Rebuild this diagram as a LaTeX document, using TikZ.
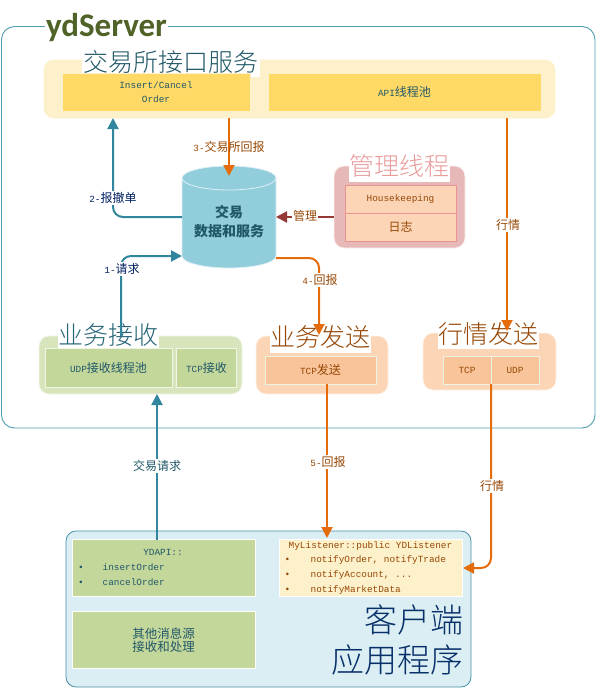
\documentclass[tikz,border=0pt]{standalone}
\usepackage{fontspec}
\setmainfont{Liberation Mono}
\newfontfamily\zhfont{Noto Sans CJK SC}
\newfontfamily\zhlight{Noto Sans CJK SC Light}
\newfontfamily\titlefont{Carlito}
\usepackage{tikz}
\usetikzlibrary{arrows.meta,positioning}
\definecolor{frameline}{HTML}{4F9DB0}
\definecolor{clientline}{HTML}{4A90A8}
\definecolor{clientfill}{HTML}{DAEEF3}
\definecolor{teal}{HTML}{31859C}
\definecolor{orange}{HTML}{E46C0A}
\definecolor{maroon}{HTML}{953735}
\definecolor{brown}{HTML}{974806}
\definecolor{navy}{HTML}{002060}
\definecolor{deep}{HTML}{215868}
\definecolor{olive}{HTML}{4F6228}
\definecolor{creampale}{HTML}{FDF1CB}
\definecolor{gold}{HTML}{FFD966}
\definecolor{rosefill}{HTML}{E6B8B7}
\definecolor{peach}{HTML}{FBD5B5}
\definecolor{peachdeep}{HTML}{F9C499}
\definecolor{sage}{HTML}{D8E4BC}
\definecolor{sagedeep}{HTML}{C4D79B}
\definecolor{cylfill}{HTML}{92CDDC}
\newcommand{\zh}[1]{{\zhfont\fontsize{12}{14}\selectfont #1}}

\begin{document}
\begin{tikzpicture}[
  x=1pt, y=-1pt,
  every node/.style={inner sep=0pt, outer sep=0pt, font=\fontsize{9.4}{14}\selectfont},
  group/.style={rounded corners=10pt, line width=0.8pt},
  grouptitle/.style={fill=white, text=#1, font=\zhlight\fontsize{25}{25}\selectfont},
  cell/.style={draw=#1, line width=0.8pt, align=center},
  line/.style={->, line width=2pt, >={Triangle[length=11pt,width=11pt]}, rounded corners=10pt},
  tag/.style={fill=white, text=#1, inner xsep=1pt, inner ysep=1pt},
]
\useasboundingbox (0,0) rectangle (597,689);

\draw[frameline, line width=0.9pt, rounded corners=13pt] (1.5,26.5) rectangle (595,428);
\node[fill=white, text=olive, minimum width=123pt, minimum height=22pt] (server) at (106.5,28)
  {\titlefont\bfseries\fontsize{33}{33}\selectfont ydServer};

\node[group, fill=creampale, draw=creampale, minimum width=511pt, minimum height=58pt] (exch) at (299.5,89) {};
\node[grouptitle=deep, minimum width=178pt, minimum height=30pt] (exchtitle) at (171,62) {交易所接口服务};
\node[cell=creampale, fill=gold, text=deep, minimum width=188pt, minimum height=38pt] (insert) at (156,92) {Insert/Cancel\\[-0.5pt]Order};
\node[cell=creampale, fill=gold, text=deep, minimum width=273pt, minimum height=38pt] (apipool) at (404.5,92) {API\zh{线程池}};

\node[minimum width=94pt, minimum height=102pt] (db) at (229,217) {};
\draw[draw=white!70!cylfill, fill=cylfill, line width=0.8pt] ([yshift=-12pt]db.north west) arc (180:0:47pt and 12pt)
  -- ([yshift=12pt]db.south east) arc (0:-180:47pt and 12pt) -- cycle;
\draw[white!70!cylfill, line width=0.8pt] ([yshift=-12pt]db.north west) arc (180:360:47pt and 12pt);
\node[text=deep, font=\zhfont\bfseries\fontsize{14}{19}\selectfont, align=center] (dbtext) at (229,222) {交易\\数据和服务};

\node[group, fill=rosefill, draw=white!80!rosefill, minimum width=131pt, minimum height=82pt] (mgr) at (399.5,207) {};
\node[grouptitle=rosefill!85!red, minimum width=101pt, minimum height=32pt] (mgrtitle) at (399,166) {管理线程};
\node[cell=rosefill!80!red, fill=peach, text=brown, minimum width=111pt, minimum height=28pt] (hk) at (400.5,199) {Housekeeping};
\node[cell=rosefill!80!red, fill=peach, text=brown, minimum width=111pt, minimum height=28pt] (logbox) at (400.5,227) {\zh{日志}};

\node[group, fill=sage, draw=white!70!sage, minimum width=203pt, minimum height=58pt] (recv) at (140.5,365) {};
\node[grouptitle=deep!70!teal, minimum width=101pt, minimum height=30pt] (recvtitle) at (108.5,335) {业务接收};
\node[cell=white!60!sage, fill=sagedeep, text=deep, minimum width=127pt, minimum height=39pt] (udprecv) at (108.5,368) {UDP\zh{接收线程池}};
\node[cell=white!60!sage, fill=sagedeep, text=deep, minimum width=60pt, minimum height=39pt] (tcprecv) at (206.5,368) {TCP\zh{接收}};

\node[group, fill=peach, draw=white!70!peach, minimum width=132pt, minimum height=58pt] (sendgrp) at (322,365) {};
\node[grouptitle=brown, minimum width=101pt, minimum height=31pt] (sendtitle) at (320.5,337.5) {业务发送};
\node[cell=sagedeep!30!white, fill=peachdeep, text=brown, minimum width=111pt, minimum height=28pt] (tcpsend) at (320.5,370) {TCP\zh{发送}};

\node[group, fill=peach, draw=white!70!peach, minimum width=133pt, minimum height=57pt] (mktgrp) at (489.5,361.5) {};
\node[grouptitle=brown, minimum width=101pt, minimum height=30pt] (mkttitle) at (488.5,334) {行情发送};
\node[cell=sagedeep!30!white, fill=peachdeep, text=brown, minimum width=48pt, minimum height=28pt] (mkttcp) at (467,370) {TCP};
\node[cell=sagedeep!30!white, fill=peachdeep, text=brown, minimum width=48pt, minimum height=28pt] (mktudp) at (515,370) {UDP};

\node[group, fill=clientfill, draw=clientline, minimum width=405pt, minimum height=156pt] (client) at (268.5,609) {};
\node[cell=white, fill=sagedeep, minimum width=183pt, minimum height=57pt] (ydapi) at (163.5,568) {};
\node[text=deep] (ydapitext) at (163,552) {YDAPI::};
\node[text=deep, anchor=west] (inserttext) at (78,567) {•\hspace{19pt}insertOrder};
\node[text=deep, anchor=west] (canceltext) at (78,582) {•\hspace{19pt}cancelOrder};
\node[cell=white, fill=sagedeep, text=deep, font=\zhfont\fontsize{12.5}{13}\selectfont, minimum width=183pt, minimum height=57pt] (othersrc) at (163.5,640) {其他消息源\\接收和处理};
\node[cell=white, fill=creampale, minimum width=183pt, minimum height=57pt] (listener) at (370.5,567.5) {};
\node[text=brown] (listenertext) at (370.5,546) {MyListener::public YDListener};
\node[text=brown, anchor=west] (notifya) at (284.5,560) {•\hspace{20.5pt}notifyOrder, notifyTrade};
\node[text=brown, anchor=west] (notifyb) at (284.5,575) {•\hspace{20.5pt}notifyAccount, ...};
\node[text=brown, anchor=west] (notifyc) at (284.5,590) {•\hspace{20.5pt}notifyMarketData};
\node[text=navy!85!teal, font=\zhlight\fontsize{33}{33}\selectfont, anchor=east] (clienta) at (463,620) {客户端};
\node[text=navy!85!teal, font=\zhlight\fontsize{33}{33}\selectfont, anchor=east] (clientb) at (463,660) {应用程序};

\coordinate (exchin) at (113,118);
\coordinate (dbtop) at (229,176);
\coordinate (dbin) at (182,256);
\coordinate (dbout) at (276,258);
\coordinate (recvout) at (121,336);
\coordinate (recvin) at (157,394);
\coordinate (sendin) at (319,335);
\coordinate (mktin) at (507,331);
\coordinate (clientin) at (327,538);
\coordinate (lsnin) at (463,568);

\draw[line, teal] (recvout) |- (dbin);
\draw[line, teal] (db.west) -| (exchin);
\draw[line, teal] (ydapi.north -| recvin) -- (recvin);
\draw[line, orange] (exch.south -| dbtop) -- (dbtop);
\draw[line, orange] (dbout) -| (sendin);
\draw[line, orange] (exch.south -| mktin) -- (mktin);
\draw[line, orange] (tcpsend.south -| clientin) -- (clientin);
\draw[line, orange] (mktudp.south west) |- (lsnin);
\draw[line, maroon] (mgr.west |- db.east) -- (db.east);

\node[tag=navy] (labela) at (122,269) {1-\zh{请求}};
\node[tag=navy] (labelb) at (113,198) {2-\zh{报撤单}};
\node[text=brown] (labelc) at (229,147) {3-\zh{交易所回报}};
\node[tag=brown] (labeld) at (320,280) {4-\zh{回报}};
\node[tag=brown] (labele) at (328,462) {5-\zh{回报}};
\node[tag=brown] (labelf) at (305,216) {\zh{管理}};
\node[tag=brown] (labelg) at (508,225) {\zh{行情}};
\node[tag=brown] (labelh) at (492,486) {\zh{行情}};
\node[tag=deep] (labeli) at (157,466) {\zh{交易请求}};
\end{tikzpicture}
\end{document}
